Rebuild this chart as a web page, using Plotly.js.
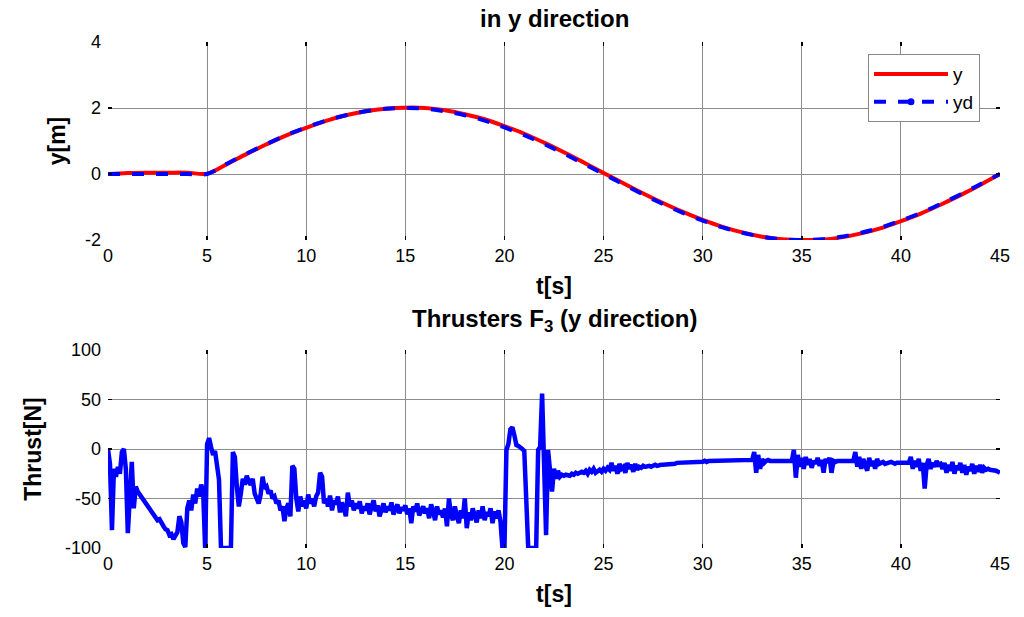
<!DOCTYPE html>
<html>
<head>
<meta charset="utf-8">
<script src="https://cdn.plot.ly/plotly-3.0.1.min.js"></script>
<style>html,body{margin:0;padding:0;background:#fff;}#chart{width:1024px;height:617px;}</style>
</head>
<body>
<div id="chart"></div>
<script>
// ---- data ----
var posTime = [0,1,2,3,4,5,6,7,8,9,10,11,12,13,14,15,16,17,18,19,20,21,22,23,24,25,26,27,28,29,30,31,32,33,34,35,36,37,38,39,40,41,42,43,44,45];
var yActual = [0,0.03,0.04,0.04,0.04,0.01,0.30,0.61,0.90,1.17,1.40,1.61,1.78,1.90,1.98,2.01,2.00,1.93,1.81,1.66,1.45,1.22,0.95,0.66,0.35,0.03,-0.28,-0.59,-0.88,-1.15,-1.39,-1.60,-1.77,-1.90,-1.98,-2.00,-1.99,-1.92,-1.80,-1.64,-1.43,-1.20,-0.93,-0.64,-0.33,0];
var yDesired = [0,0,0,0,0,0,0.31,0.62,0.91,1.18,1.41,1.62,1.78,1.90,1.98,2.00,1.98,1.90,1.78,1.62,1.41,1.18,0.91,0.62,0.31,0,-0.31,-0.62,-0.91,-1.18,-1.41,-1.62,-1.78,-1.90,-1.98,-2.00,-1.98,-1.90,-1.78,-1.62,-1.41,-1.18,-0.91,-0.62,-0.31,0];

var thrustStep = 0.1; // seconds between samples
var thrustF3 = [
  0,-15,-82,-20,-28,-18,-25,-3,0,-20,
  -85,-40,-13,-60,-38,-43,-46,-49,-52,-55,
  -58,-61,-63,-67,-68,-72,-71,-76,-78,-81,
  -82,-87,-86,-91,-88,-84,-68,-74,-95,-99,
  -60,-52,-62,-46,-55,-40,-48,-36,-42,-100,
  5,11,2,-6,-2,-18,-31,-100,-100,-100,
  -100,-100,-100,-3,-8,-38,-58,-45,-30,-36,
  -27,-33,-36,-30,-45,-50,-55,-46,-28,-40,
  -38,-45,-42,-50,-48,-55,-52,-62,-58,-73,
  -60,-55,-68,-17,-20,-50,-63,-48,-58,-52,
  -60,-46,-55,-50,-58,-48,-44,-24,-28,-55,
  -50,-58,-47,-62,-52,-56,-48,-64,-54,-60,
  -68,-44,-58,-52,-62,-55,-60,-53,-65,-58,
  -62,-55,-66,-58,-52,-63,-57,-68,-60,-55,
  -64,-58,-62,-54,-66,-60,-56,-65,-59,-62,
  -57,-66,-60,-75,-58,-63,-55,-67,-61,-58,
  -65,-60,-70,-56,-63,-72,-58,-66,-62,-69,
  -60,-78,-50,-66,-72,-58,-68,-75,-62,-70,
  -50,-80,-64,-72,-60,-68,-74,-62,-70,-58,
  -72,-64,-68,-60,-75,-63,-70,-62,-73,-100,
  -100,-1,5,20,22,14,4,3,2,0,
  -2,-41,-100,-100,-100,-100,-100,-1,2,56,
  -2,-87,-1,-18,-43,-20,-30,-22,-28,-26,
  -27,-26,-26,-27,-25,-26,-24,-25,-24,-23,
  -24,-22,-25,-21,-23,-20,-24,-22,-21,-23,
  -20,-22,-19,-21,-14,-22,-17,-25,-15,-20,
  -18,-24,-14,-20,-16,-23,-15,-21,-18,-19,
  -17,-18,-17,-17,-18,-17,-16,-17,-16,-16,
  -16,-16,-15,-15,-15,-15,-15,-14,-14,-14,
  -14,-14,-14,-13,-13,-13,-13,-13,-13,-13,
  -13,-12,-13,-12,-12,-12,-12,-12,-12,-12,
  -12,-12,-12,-11,-12,-11,-11,-11,-11,-11,
  -11,-11,-11,-11,-11,-11,-3,-24,-6,-20,
  -10,-14,-12,-11,-12,-12,-11,-12,-12,-11,
  -12,-12,-11,-12,-12,-12,-1,-29,-6,-18,
  -9,-20,-8,-16,-10,-19,-12,-15,-9,-17,
  -11,-24,-10,-14,-9,-24,-12,-13,-12,-12,
  -12,-12,-13,-12,-12,-12,-12,-3,-18,-8,
  -20,-10,-16,-22,-9,-17,-12,-20,-10,-15,
  -14,-13,-15,-14,-14,-13,-14,-15,-14,-14,
  -14,-15,-14,-15,-14,-8,-20,-12,-18,-10,
  -22,-14,-40,-16,-10,-20,-14,-18,-12,-16,
  -15,-20,-14,-24,-16,-22,-13,-25,-17,-21,
  -14,-24,-16,-26,-18,-22,-15,-25,-17,-23,
  -16,-24,-19,-21,-20,-21,-21,-22,-22,-23,
  -24
];
var thrustTime = thrustF3.map(function(_, i){ return Math.round(i * thrustStep * 10) / 10; });

var xTicks = [0,5,10,15,20,25,30,35,40,45];
var yTicksTop = [-2,0,2,4];
var yTicksBottom = [-100,-50,0,50,100];

// ---- chart ----
var font = 'Liberation Sans, Arial, sans-serif';
var gridColor = '#8c8c8c';

function xAxis(anchor) {
  return {
    anchor: anchor, range: [0, 45], tickvals: xTicks, ticktext: xTicks.map(String),
    showgrid: true, gridcolor: gridColor, gridwidth: 1, zeroline: false, showline: false,
    ticks: 'inside', ticklen: 4, tickcolor: '#000', tickwidth: 1.5, mirror: 'ticks',
    ticklabelstandoff: 3,
    tickfont: {family: font, size: 18, color: '#000'},
    title: {text: 't[s]', font: {family: font, size: 23, color: '#000', weight: 'bold'}, standoff: 12}
  };
}
function yAxis(anchor, dom, rng, ticks, label, standoff) {
  return {
    anchor: anchor, domain: dom, range: rng, tickvals: ticks, ticktext: ticks.map(String),
    showgrid: true, gridcolor: gridColor, gridwidth: 1, zeroline: false, showline: false,
    ticks: 'inside', ticklen: 4, tickcolor: '#000', tickwidth: 1.5, mirror: 'ticks',
    ticklabelstandoff: 6,
    tickfont: {family: font, size: 18, color: '#000'},
    title: {text: label, font: {family: font, size: 23, color: '#000', weight: 'bold'}, standoff: standoff}
  };
}

var traces = [
  {x: posTime, y: yActual, type: 'scatter', mode: 'lines', name: 'y',
   line: {color: '#ff0000', width: 4, shape: 'spline'}, xaxis: 'x', yaxis: 'y'},
  {x: posTime, y: yDesired, type: 'scatter', mode: 'lines', name: 'yd', showlegend: false,
   line: {color: '#0000ff', width: 4, dash: 'dash', shape: 'spline'}, xaxis: 'x', yaxis: 'y'},
  {x: [null], y: [null], type: 'scatter', mode: 'lines+markers', name: 'yd',
   line: {color: '#0000ff', width: 4, dash: 'dash'},
   marker: {color: '#0000ff', size: 7}, xaxis: 'x', yaxis: 'y'},
  {x: thrustTime, y: thrustF3, type: 'scatter', mode: 'lines', name: 'F3', showlegend: false,
   line: {color: '#0000ff', width: 4.5}, xaxis: 'x2', yaxis: 'y2'}
];

var layout = {
  width: 1024, height: 617,
  margin: {l: 108, r: 24, t: 42, b: 69},
  paper_bgcolor: '#fff', plot_bgcolor: '#fff',
  font: {family: font, color: '#000'},
  xaxis: xAxis('y'),
  yaxis: yAxis('x', [0.6087, 1], [-2, 4], yTicksTop, 'y[m]', 12),
  xaxis2: xAxis('y2'),
  yaxis2: yAxis('x2', [0, 0.3913], [-100, 100], yTicksBottom, 'Thrust[N]', 16),
  showlegend: true,
  legend: {x: 0.852, y: 0.976, xanchor: 'left', yanchor: 'top',
           bgcolor: '#fff', bordercolor: '#888', borderwidth: 1,
           font: {family: font, size: 19, color: '#000'}, itemwidth: 74, tracegroupgap: 0},
  annotations: [
    {text: '<b>in y direction</b>', xref: 'paper', yref: 'paper', x: 0.5, y: 1, yshift: 24,
     xanchor: 'center', yanchor: 'middle', showarrow: false, font: {family: font, size: 24, color: '#000'}},
    {text: '<b>Thrusters F<sub>3</sub> (y direction)</b>', xref: 'paper', yref: 'paper', x: 0.5, y: 0.3913, yshift: 30,
     xanchor: 'center', yanchor: 'middle', showarrow: false, font: {family: font, size: 24, color: '#000'}}
  ]
};

Plotly.newPlot('chart', traces, layout, {displayModeBar: false, staticPlot: true});
</script>
</body>
</html>
